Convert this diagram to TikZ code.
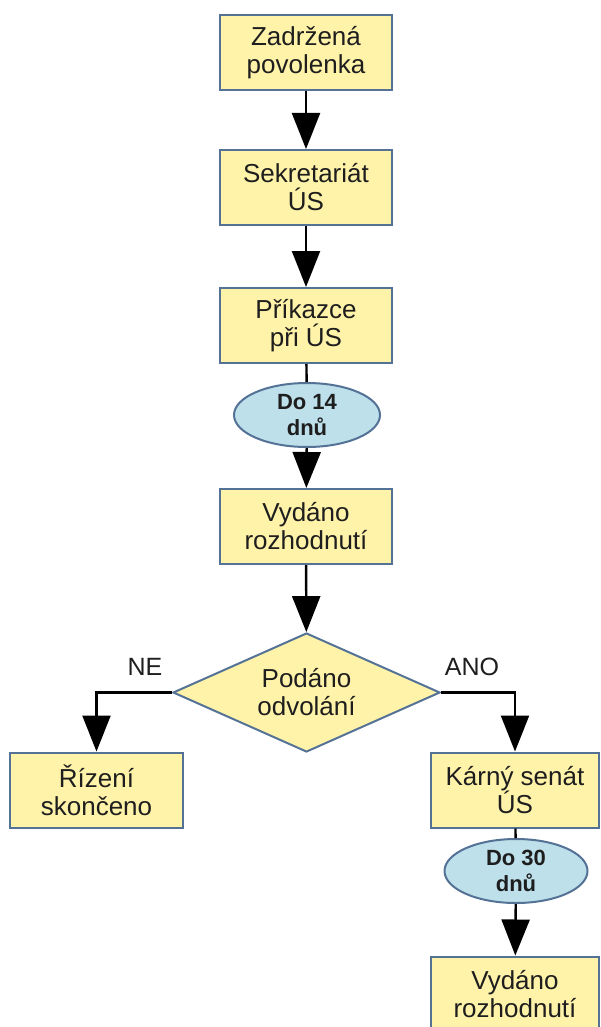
\documentclass[tikz,border=0pt]{standalone}
\usepackage{fontspec}
\setmainfont{Liberation Sans}
\usetikzlibrary{arrows.meta,shapes.geometric}
\definecolor{boxfill}{RGB}{255,243,170}
\definecolor{boxline}{RGB}{84,114,150}
\definecolor{ellfill}{RGB}{190,224,234}
\definecolor{txt}{RGB}{30,30,30}
\begin{document}
\begin{tikzpicture}[x=1pt,y=-1pt,
  stepbox/.style={draw=boxline, line width=2pt, fill=boxfill, minimum width=172pt,
    minimum height=75pt, inner sep=0pt, align=center, text=txt,
    font=\fontsize{26}{28}\selectfont},
  timebox/.style={ellipse, draw=boxline, line width=2pt, fill=ellfill, minimum width=146pt,
    minimum height=64pt, inner sep=0pt, align=center, text=txt,
    font=\bfseries\fontsize{22}{26}\selectfont},
  decbox/.style={diamond, aspect=2.2, draw=boxline, line width=2pt, fill=boxfill, minimum width=267pt,
    minimum height=119pt, inner sep=0pt, align=center, text=txt,
    font=\fontsize{26}{28}\selectfont},
  lbl/.style={text=txt, font=\fontsize{25}{27}\selectfont, inner sep=0pt},
  conn/.style={line width=2.4pt, black},
  arr/.style={conn, -{Triangle[width=28pt,length=36pt]}}]
\useasboundingbox (0,0) rectangle (601,1027);
\fill[white] (0,0) rectangle (601,1027);

\node[stepbox] (b1) at (306,52.5) {Zadržená\\povolenka};
\node[stepbox] (b2) at (306,187.5) {Sekretariát\\ÚS};
\node[stepbox] (b3) at (306,325.5) {Příkazce\\při ÚS};
\node[timebox] (e1) at (307,415) {Do 14\\dnů};
\node[stepbox] (b4) at (306,526.5) {Vydáno\\rozhodnutí};
\node[decbox] (d) at (306.5,692.5) {Podáno\\odvolání};
\node[stepbox, minimum width=173pt] (r1) at (96.5,790) {Řízení\\skončeno};
\node[stepbox, minimum width=168pt] (k) at (515,790) {Kárný senát\\ÚS};
\node[timebox, minimum width=143pt] (e2) at (516,871) {Do 30\\dnů};
\node[stepbox, minimum width=168pt] (b5) at (515,994) {Vydáno\\rozhodnutí};

\node[lbl] (ne) at (145,667) {NE};
\node[lbl] (ano) at (472,667) {ANO};

\draw[arr] (b1) -- (b2);
\draw[arr] (b2) -- (b3);
\draw[conn] (b3) -- (e1);
\draw[arr] (e1) -- (b4);
\draw[arr] (b4) -- (d);
\draw[arr] (d.west) -| (r1.north);
\draw[arr] (d.east) -| (k.north);
\draw[conn] (k) -- (e2);
\draw[arr] (e2) -- (b5);
\end{tikzpicture}
\end{document}
